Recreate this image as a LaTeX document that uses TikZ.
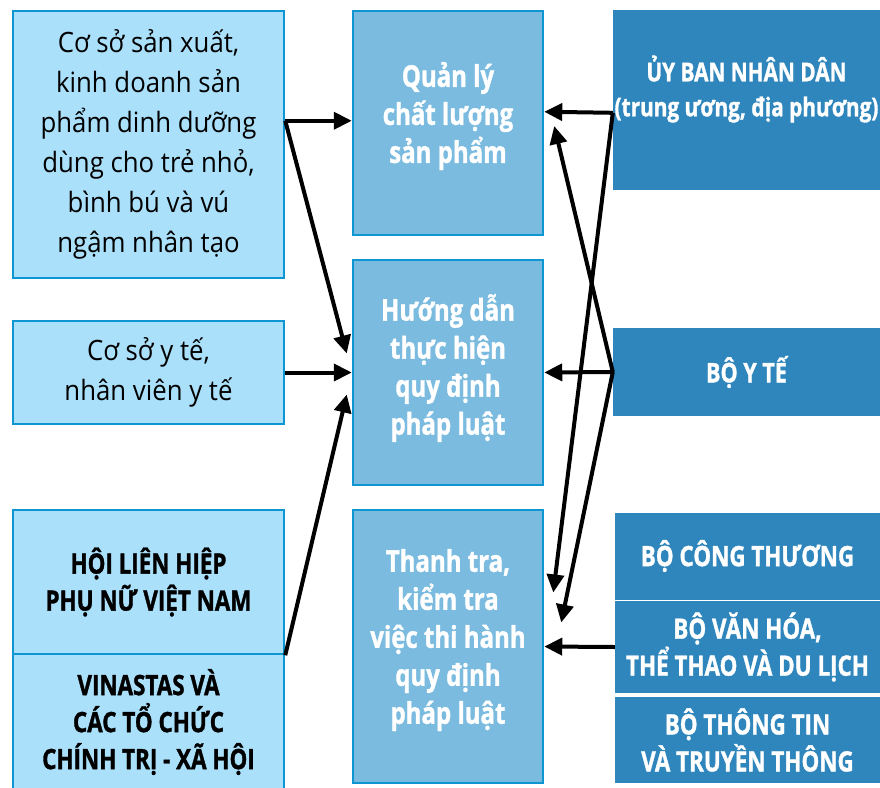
\documentclass[tikz,border=0pt]{standalone}
\usepackage{fontspec}
\usetikzlibrary{arrows.meta}
\newfontfamily\condb{Open Sans}[FakeStretch=0.8,FakeBold=1.2]
\newfontfamily\regf{Open Sans}[FakeStretch=0.92]
\definecolor{lightfill}{RGB}{170,224,250}
\definecolor{midfill}{RGB}{122,187,223}
\definecolor{darkfill}{RGB}{46,134,188}
\definecolor{bordblue}{RGB}{14,150,210}
\tikzset{
  lbox/.style={draw=bordblue,line width=2.5pt,fill=lightfill,inner sep=0pt,align=center,text=black},
  mbox/.style={draw=bordblue,line width=2.5pt,fill=midfill,inner sep=0pt},
  mtext/.style={inner sep=0pt,align=center,text=white,font=\condb\bfseries\fontsize{30}{38}\selectfont},
  rbox/.style={fill=darkfill,inner sep=0pt,align=center,text=white},
  arr/.style={line width=4pt,-{Triangle[length=18pt,width=17pt]}}
}
\begin{document}
\begin{tikzpicture}[x=1pt,y=-1pt]
\useasboundingbox[fill=white] (0,0) rectangle (880,787);
% left
\node[lbox,minimum width=271pt,minimum height=267pt,font=\regf\fontsize{28}{40}\selectfont] (L1) at (148.5,144.5)
  {Cơ sở sản xuất,\\kinh doanh sản\\phẩm dinh dưỡng\\dùng cho trẻ nhỏ,\\bình bú và vú\\ngậm nhân tạo};
\node[lbox,minimum width=271pt,minimum height=103pt,font=\regf\fontsize{28}{40}\selectfont] (L2) at (148.5,372.5)
  {Cơ sở y tế,\\nhân viên y tế};
\node[lbox,minimum width=271pt,minimum height=144pt,font=\condb\bfseries\fontsize{28}{37}\selectfont] (L3) at (148.5,582)
  {HỘI LIÊN HIỆP\\PHỤ NỮ VIỆT NAM};
\node[lbox,minimum width=271pt,minimum height=136pt,font=\condb\bfseries\fontsize{28}{37}\selectfont] (L4) at (148.5,722)
  {VINASTAS VÀ\\CÁC TỔ CHỨC\\CHÍNH TRỊ - XÃ HỘI};
% middle
\node[mbox,minimum width=190pt,minimum height=224pt] (M1) at (448,123) {};
\node[mtext] (M1t) at (448,116) {Quản lý\\chất lượng\\sản phẩm};
\node[mbox,minimum width=190pt,minimum height=225pt] (M2) at (448,372.5) {};
\node[mtext] (M2t) at (448,368) {Hướng dẫn\\thực hiện\\quy định\\pháp luật};
\node[mbox,minimum width=190pt,minimum height=273pt] (M3) at (448,646.5) {};
\node[mtext] (M3t) at (448,640) {Thanh tra,\\kiểm tra\\việc thi hành\\quy định\\pháp luật};
% right
\node[rbox,minimum width=267pt,minimum height=180pt] (R1) at (746.5,100) {};
\node[inner sep=0pt,align=center,text=white,font=\condb\bfseries\fontsize{26}{35}\selectfont] (R1t) at (746.5,89)
  {ỦY BAN NHÂN DÂN\\(trung ương, địa phương)};
\node[rbox,minimum width=267pt,minimum height=88pt,font=\condb\bfseries\fontsize{27}{35}\selectfont] (R2) at (746.5,372)
  {BỘ Y TẾ};
\node[rbox,minimum width=265pt,minimum height=87pt,font=\condb\bfseries\fontsize{28}{37}\selectfont] (R3) at (747.5,556)
  {BỘ CÔNG THƯƠNG};
\node[rbox,minimum width=265pt,minimum height=92pt,font=\condb\bfseries\fontsize{28}{37}\selectfont] (R4) at (747.5,647)
  {BỘ VĂN HÓA,\\THỂ THAO VÀ DU LỊCH};
\node[rbox,minimum width=265pt,minimum height=86pt,font=\condb\bfseries\fontsize{28}{37}\selectfont] (R5) at (747.5,740)
  {BỘ THÔNG TIN\\VÀ TRUYỀN THÔNG};
% arrows left
\draw[arr] ([yshift=-111pt]L1.north east) -- ([yshift=-111pt]M1.north west);
\draw[arr] ([yshift=-111pt]L1.north east) -- ([xshift=-5pt,yshift=19pt]M2.west);
\draw[arr] (L2.east) -- (M2.west);
\draw[arr] (L3.south east) -- ([xshift=-5pt,yshift=-22pt]M2.west);
% arrows right
\draw[arr] ([yshift=-103pt]R1.north west) -- ([yshift=-102pt]M1.north east);
\draw[arr] ([yshift=-103pt]R1.north west) -- ([xshift=9pt,yshift=54pt]M3.east);
\draw[arr] (R2.west) -- (M2.east);
\draw[arr] (R2.west) -- ([xshift=10pt,yshift=-3pt]M1.east);
\draw[arr] (R2.west) -- ([xshift=17pt,yshift=24pt]M3.east);
\draw[arr] (R4.west) -- (M3.east);
\end{tikzpicture}
\end{document}
